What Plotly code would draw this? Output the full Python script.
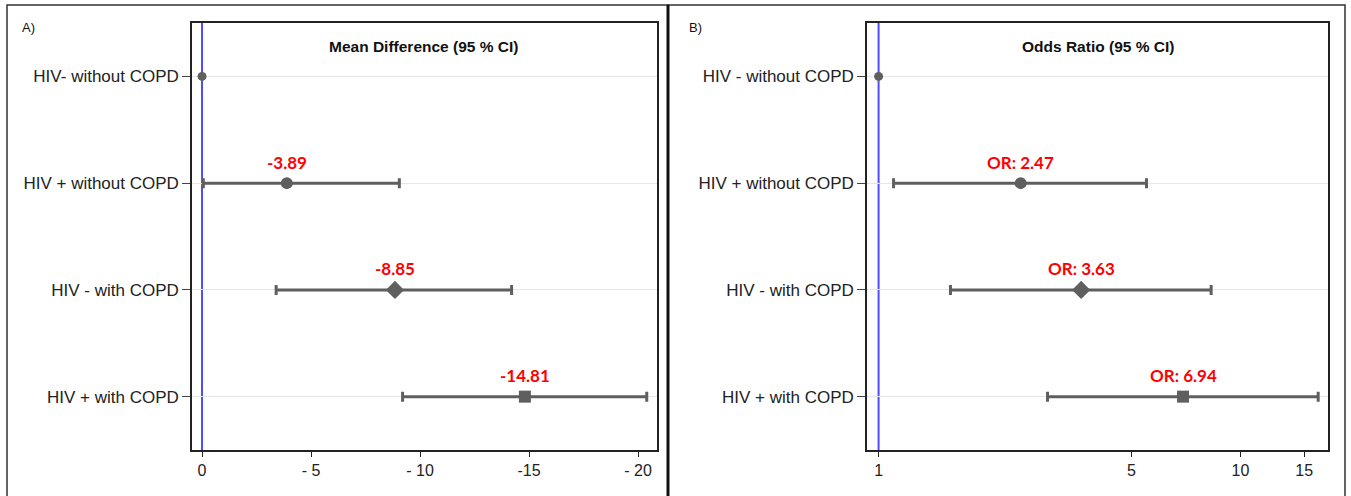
import math
import plotly.graph_objects as go

# ---------------- data ----------------
rows_a = ["HIV- without COPD", "HIV + without COPD", "HIV - with COPD", "HIV + with COPD"]
rows_b = ["HIV - without COPD", "HIV + without COPD", "HIV - with COPD", "HIV + with COPD"]

mean_diff = [0.0, -3.89, -8.85, -14.81]
md_ci_low = [None, -0.06, -3.40, -9.20]
md_ci_high = [None, -9.05, -14.20, -20.40]
md_labels = ["", "-3.89", "-8.85", "-14.81"]

odds_ratio = [1.0, 2.47, 3.63, 6.94]
or_ci_low = [None, 1.10, 1.58, 2.93]
or_ci_high = [None, 5.50, 8.30, 16.40]
or_labels = ["", "OR: 2.47", "OR: 3.63", "OR: 6.94"]

md_tickvals = [0, -5, -10, -15, -20]
md_ticktext = ["0", "- 5", "- 10", "-15", "- 20"]
or_tickvals = [1, 5, 10, 15]
or_ticktext = ["1", "5", "10", "15"]

# ---------------- styles ----------------
W, H = 1351, 496
GREY = "#5f5f5f"
RED = "#ff0000"
BLUE = "#4d4dff"
symbols = ["circle", "circle", "diamond", "square"]
sizes = [9, 12, 14, 12]


def px(x):
    return x / W


def py(y):
    return 1 - y / H


fig = go.Figure()


def add_panel(vals, lo, hi, xaxis, yaxis):
    for i, v in enumerate(vals):
        kw = {}
        if lo[i] is not None:
            a, b = lo[i], hi[i]
            kw["error_x"] = dict(
                type="data", symmetric=False,
                array=[max(a, b) - v], arrayminus=[v - min(a, b)],
                color=GREY, thickness=3, width=5,
            )
        fig.add_trace(go.Scatter(
            x=[v], y=[i], mode="markers", xaxis=xaxis, yaxis=yaxis,
            marker=dict(symbol=symbols[i], size=sizes[i], color=GREY),
            showlegend=False, hoverinfo="skip", **kw,
        ))


add_panel(mean_diff, md_ci_low, md_ci_high, "x", "y")
add_panel(odds_ratio, or_ci_low, or_ci_high, "x2", "y2")

ydom = [py(450), py(23)]
ytick_font = dict(family="Liberation Sans, Arial, sans-serif", size=17, color="#222")
xtick_font = dict(family="Liberation Sans, Arial, sans-serif", size=16, color="#222")

common_y = dict(
    range=[3.5, -0.5], tickvals=[0, 1, 2, 3], showgrid=True, gridcolor="#e6e6e6",
    gridwidth=1, zeroline=False, ticks="outside", ticklen=8, tickcolor="#444",
    showline=True, linecolor="#222", linewidth=1.5, mirror=True, tickfont=ytick_font,
    domain=ydom,
)
common_x = dict(
    showgrid=False, zeroline=False, ticks="outside", ticklen=5, tickcolor="#222",
    showline=True, linecolor="#222", linewidth=1.5, mirror=True, tickfont=xtick_font,
)

fig.update_layout(
    width=W, height=H, margin=dict(l=0, r=0, t=0, b=0),
    paper_bgcolor="white", plot_bgcolor="white",
    xaxis=dict(domain=[px(192), px(657)], range=[0.46, -20.87], anchor="y",
               tickvals=md_tickvals, ticktext=md_ticktext, **common_x),
    yaxis=dict(anchor="x", ticktext=rows_a, **common_y),
    xaxis2=dict(domain=[px(867), px(1328)], type="log", range=[-0.032, 1.242], anchor="y2",
                tickvals=or_tickvals, ticktext=or_ticktext, **common_x),
    yaxis2=dict(anchor="x2", ticktext=rows_b, **common_y),
)

# reference lines
fig.add_shape(type="line", xref="x", yref="y domain", x0=0, x1=0, y0=0, y1=1,
              line=dict(color=BLUE, width=2), layer="below")
fig.add_shape(type="line", xref="x2", yref="y2 domain", x0=1, x1=1, y0=0, y1=1,
              line=dict(color=BLUE, width=2), layer="below")

# outer panel frames
fig.add_shape(type="rect", xref="paper", yref="paper", x0=px(7), x1=px(668), y0=py(505), y1=py(5),
              line=dict(color="#333", width=1.5))
fig.add_shape(type="rect", xref="paper", yref="paper", x0=px(668), x1=px(1345), y0=py(505), y1=py(5),
              line=dict(color="#333", width=1.5))
fig.add_shape(type="line", xref="paper", yref="paper", x0=px(668), x1=px(668), y0=py(505), y1=py(5),
              line=dict(color="#111", width=3))

# value labels
lab_font = dict(family="Lato, Open Sans, sans-serif", size=17, color=RED, weight="bold")
for i in range(1, 4):
    fig.add_annotation(x=mean_diff[i], y=i, xref="x", yref="y", text=md_labels[i],
                       showarrow=False, yshift=21, font=lab_font)
    fig.add_annotation(x=math.log10(odds_ratio[i]), y=i, xref="x2", yref="y2",
                       text=or_labels[i], showarrow=False, yshift=21, font=lab_font)

# titles
title_font = dict(family="Liberation Sans, Arial, sans-serif", size=15.5, color="#111", weight="bold")
fig.add_annotation(x=px(424.5), y=py(47), xref="paper", yref="paper", text="Mean Difference (95 % CI)",
                   showarrow=False, xanchor="center", yanchor="middle", font=title_font)
fig.add_annotation(x=px(1097.5), y=py(47), xref="paper", yref="paper", text="Odds Ratio (95 % CI)",
                   showarrow=False, xanchor="center", yanchor="middle", font=title_font)

# panel letters
letter_font = dict(family="Liberation Sans, Arial, sans-serif", size=13, color="#111")
fig.add_annotation(x=px(20), y=py(28), xref="paper", yref="paper", text="A)", showarrow=False,
                   xanchor="left", yanchor="middle", font=letter_font)
fig.add_annotation(x=px(687), y=py(28), xref="paper", yref="paper", text="B)", showarrow=False,
                   xanchor="left", yanchor="middle", font=letter_font)

fig.write_html("out.html", config={"displayModeBar": False},
               post_script="document.body.style.margin='0';document.body.style.overflow='hidden';")
